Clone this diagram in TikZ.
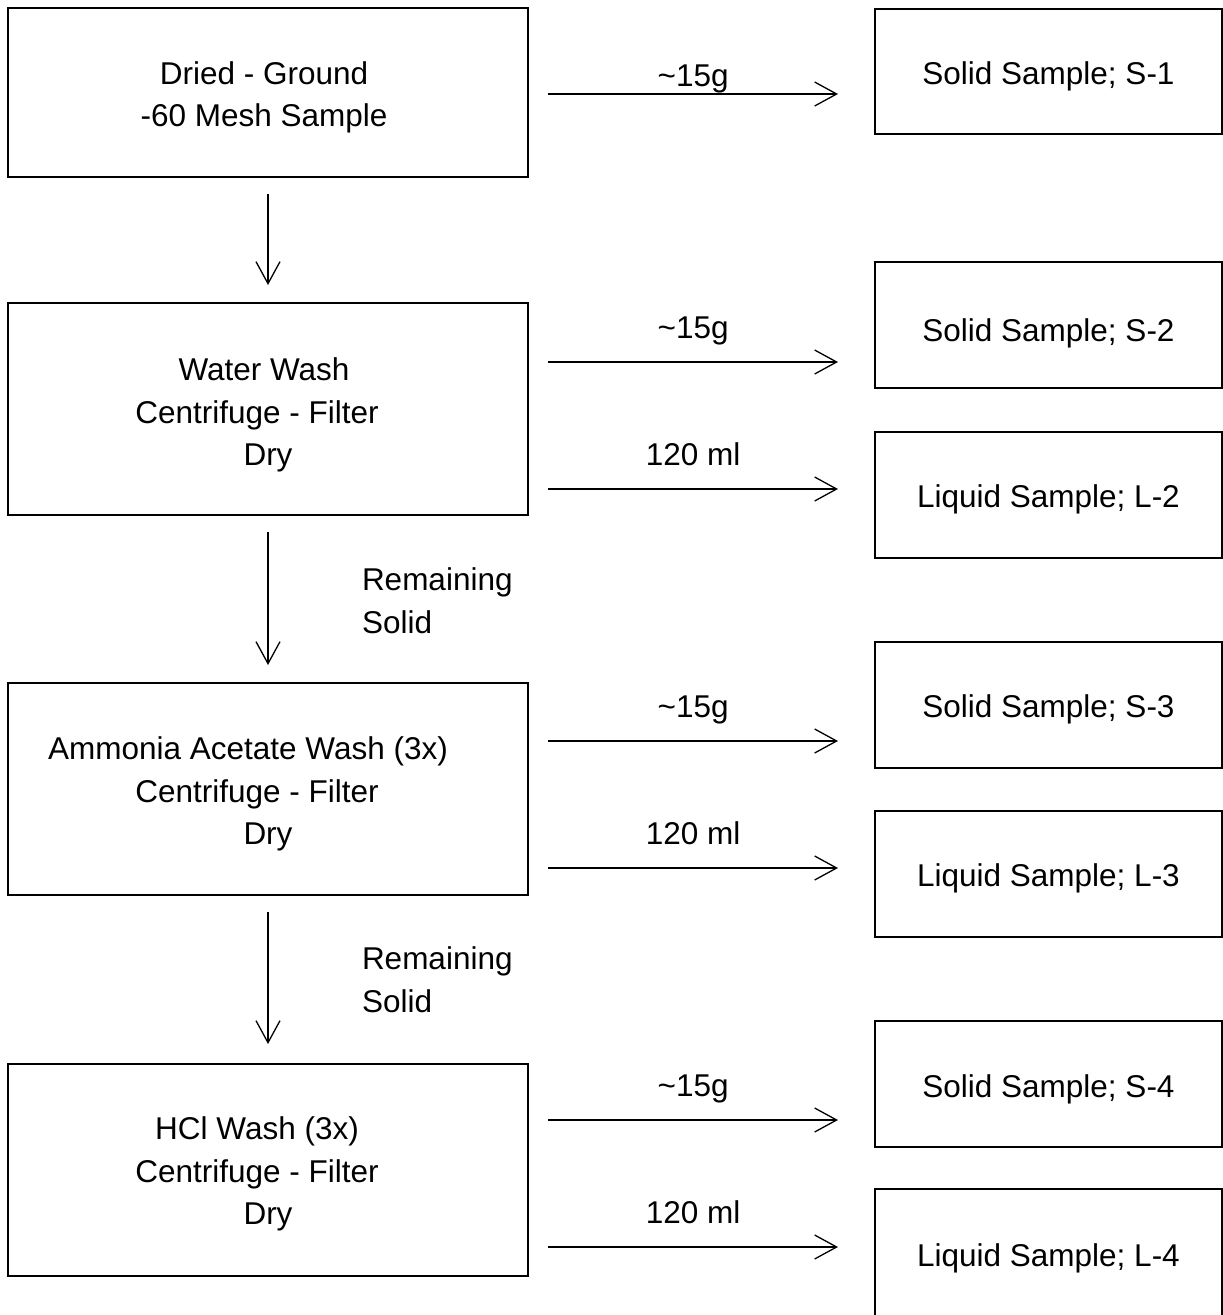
\documentclass[tikz,border=0pt]{standalone}
\usepackage{fontspec}
\setmainfont{Liberation Sans}
\usetikzlibrary{arrows.meta}
\newcommand{\padr}[2]{\mbox{#1\kern#2}}
\begin{document}
\begin{tikzpicture}[x=1pt,y=-1pt,
  every node/.style={font=\fontsize{31.5}{42.5}\selectfont, inner sep=0pt, outer sep=0pt},
  mainbox/.style={draw, line width=2pt, minimum width=520pt},
  samplebox/.style={draw, line width=2pt, minimum width=347pt, minimum height=126pt},
  boxtext/.style={align=center, yshift=-5pt},
  flow/.style={line width=1.3pt, -{Straight Barb[length=22pt,width=24pt]}},
  hflow/.style={flow, shorten <=20pt, shorten >=37pt},
  qty/.style={pos=0.476, anchor=base}]
\useasboundingbox (0,0) rectangle (1223,1315);
% process boxes
\node[mainbox, minimum height=169pt,
  label={[boxtext, xshift=-4pt]center:{Dried - Ground\\-60 Mesh Sample}}] (b1) at (268,92.5) {};
\node[mainbox, minimum height=212pt,
  label={[boxtext, yshift=-1pt]center:{\padr{Water Wash}{8pt}\\\padr{Centrifuge - Filter}{22pt}\\Dry}}] (b2) at (268,409) {};
\node[mainbox, minimum height=212pt,
  label={[boxtext]center:{\padr{Ammonia Acetate Wash (3x)}{40pt}\\\padr{Centrifuge - Filter}{22pt}\\Dry}}] (b3) at (268,789) {};
\node[mainbox, minimum height=212pt,
  label={[boxtext, yshift=1pt]center:{\padr{HCl Wash (3x)}{22pt}\\\padr{Centrifuge - Filter}{22pt}\\Dry}}] (b4) at (268,1170) {};
% sample boxes
\node[samplebox, minimum height=125pt, label={[boxtext]center:{Solid Sample; S-1}}] (s1) at (1048.5,71.5) {};
\node[samplebox, label={[boxtext, yshift=-3pt]center:{Solid Sample; S-2}}] (s2) at (1048.5,325) {};
\node[samplebox, label={[boxtext]center:{Liquid Sample; L-2}}] (l2) at (1048.5,494.5) {};
\node[samplebox, label={[boxtext]center:{Solid Sample; S-3}}] (s3) at (1048.5,704.5) {};
\node[samplebox, label={[boxtext]center:{Liquid Sample; L-3}}] (l3) at (1048.5,873.5) {};
\node[samplebox, label={[boxtext]center:{Solid Sample; S-4}}] (s4) at (1048.5,1084) {};
\node[samplebox, minimum height=132pt, label={[boxtext, yshift=2pt]center:{Liquid Sample; L-4}}] (l4) at (1048.5,1255) {};
% vertical flow
\draw[flow, shorten <=17pt, shorten >=18pt] (b1.south) -- (b2.north);
\draw[flow, shorten <=17pt, shorten >=18pt] (b2.south) -- (b3.north);
\draw[flow, shorten <=17pt, shorten >=20pt] (b3.south) -- (b4.north);
\node[anchor=north west, align=left] (r1) at (362,568) {Remaining\\Solid};
\node[anchor=north west, align=left] (r2) at (362,947) {Remaining\\Solid};
% horizontal flows
\draw[hflow] (b1.east |- 0,94) -- node[qty, yshift=8pt] (q1) {\textasciitilde 15g} (s1.west |- 0,94);
\draw[hflow] (b2.east |- 0,362) -- node[qty, yshift=24pt] (q2) {\textasciitilde 15g} (s2.west |- 0,362);
\draw[hflow] (b2.east |- 0,489) -- node[qty, yshift=24pt] (v2) {120 ml} (l2.west |- 0,489);
\draw[hflow] (b3.east |- 0,741) -- node[qty, yshift=24pt] (q3) {\textasciitilde 15g} (s3.west |- 0,741);
\draw[hflow] (b3.east |- 0,868) -- node[qty, yshift=24pt] (v3) {120 ml} (l3.west |- 0,868);
\draw[hflow] (b4.east |- 0,1120) -- node[qty, yshift=24pt] (q4) {\textasciitilde 15g} (s4.west |- 0,1120);
\draw[hflow] (b4.east |- 0,1247) -- node[qty, yshift=24pt] (v4) {120 ml} (l4.west |- 0,1247);
\end{tikzpicture}
\end{document}
